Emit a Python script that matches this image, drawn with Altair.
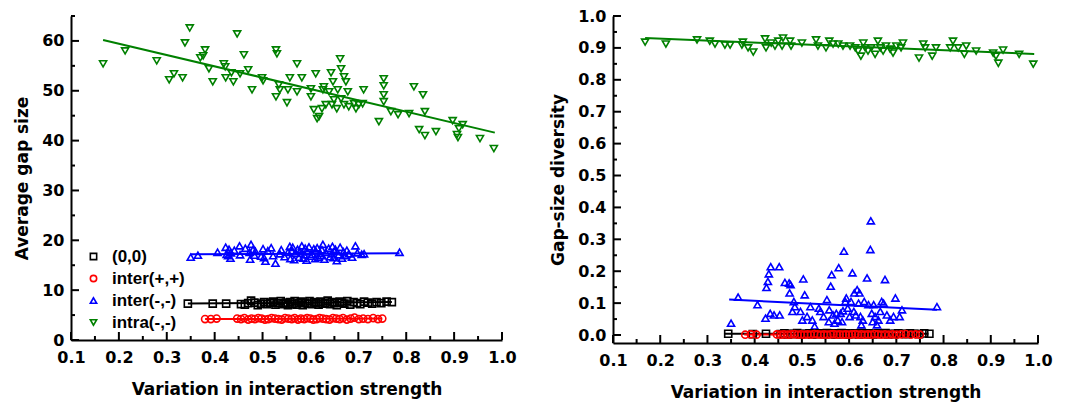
import altair as alt
import pandas as pd

SERIES = ["(0,0)", "inter(+,+)", "inter(-,-)", "intra(-,-)"]
COLORS = ["#000000", "#FF0000", "#0000FF", "#008000"]
SHAPES = ["square", "circle", "triangle-up", "triangle-down"]

X_MAJOR = [0.1, 0.2, 0.3, 0.4, 0.5, 0.6, 0.7, 0.8, 0.9, 1.0]
X_MINOR = [0.15, 0.25, 0.35, 0.45, 0.55, 0.65, 0.75, 0.85, 0.95]
YA_MAJOR = [0, 10, 20, 30, 40, 50, 60]
YA_MINOR = [5, 15, 25, 35, 45, 55, 65]
YB_MAJOR = [0.0, 0.1, 0.2, 0.3, 0.4, 0.5, 0.6, 0.7, 0.8, 0.9, 1.0]
YB_MINOR = [0.05, 0.15, 0.25, 0.35, 0.45, 0.55, 0.65, 0.75, 0.85, 0.95]

# ---- intra(-,-) (green) ----
green_x_a = [
    0.167, 0.213, 0.279, 0.305, 0.315, 0.333, 0.338, 0.348, 0.370, 0.376,
    0.380, 0.388, 0.396, 0.419, 0.422, 0.423, 0.435, 0.439, 0.447, 0.453,
    0.461, 0.470, 0.478, 0.499, 0.501, 0.528, 0.530, 0.528, 0.534, 0.536,
    0.551, 0.553, 0.557, 0.572, 0.572, 0.582, 0.601, 0.601, 0.611, 0.607,
    0.614, 0.618, 0.624, 0.626, 0.628, 0.643, 0.647, 0.639, 0.632, 0.645,
    0.649, 0.655, 0.662, 0.664, 0.670, 0.674, 0.678, 0.657, 0.664, 0.670,
    0.680, 0.691, 0.695, 0.701, 0.709, 0.711, 0.743, 0.753, 0.753, 0.753,
    0.753, 0.768, 0.783, 0.806, 0.816, 0.827, 0.835, 0.839, 0.839, 0.862,
    0.897, 0.906, 0.908, 0.910, 0.918, 0.954, 0.983]
green_y_a = [
    55.4, 58.0, 56.0, 52.2, 53.4, 52.6, 59.6, 62.6, 56.6, 57.0,
    58.2, 54.4, 51.8, 55.4, 54.8, 52.6, 53.6, 51.8, 61.4, 53.4,
    57.2, 54.2, 50.2, 52.6, 52.0, 58.2, 57.4, 48.8, 51.2, 50.2,
    47.6, 50.2, 52.6, 55.4, 49.8, 52.6, 48.8, 50.4, 53.4, 46.2,
    44.4, 44.8, 46.4, 50.2, 50.8, 53.6, 51.8, 49.8, 47.2, 47.2,
    48.2, 46.4, 56.4, 54.4, 52.8, 51.8, 49.8, 50.2, 48.4, 47.2,
    46.8, 47.4, 46.4, 47.2, 47.4, 50.2, 43.8, 51.0, 52.4, 49.2,
    47.8, 45.8, 45.2, 45.4, 50.8, 42.2, 49.2, 45.8, 41.0, 41.8,
    44.0, 41.2, 40.6, 42.4, 43.2, 40.4, 38.4]
green_x_b = [
    0.168, 0.212, 0.278, 0.305, 0.316, 0.337, 0.348, 0.375, 0.373, 0.386,
    0.397, 0.422, 0.424, 0.435, 0.443, 0.450, 0.460, 0.458, 0.475, 0.477,
    0.500, 0.530, 0.534, 0.551, 0.558, 0.566, 0.577, 0.587, 0.602, 0.613,
    0.619, 0.625, 0.630, 0.634, 0.640, 0.647, 0.655, 0.661, 0.666, 0.672,
    0.678, 0.687, 0.693, 0.700, 0.710, 0.714, 0.748, 0.757, 0.761, 0.776,
    0.784, 0.814, 0.820, 0.831, 0.844, 0.848, 0.869, 0.905, 0.911, 0.916,
    0.926, 0.960, 0.990]
green_y_b = [
    0.918, 0.912, 0.925, 0.921, 0.912, 0.909, 0.909, 0.918, 0.909, 0.900,
    0.887, 0.928, 0.900, 0.915, 0.906, 0.921, 0.931, 0.906, 0.921, 0.906,
    0.915, 0.925, 0.906, 0.900, 0.921, 0.912, 0.912, 0.906, 0.906, 0.900,
    0.890, 0.874, 0.915, 0.900, 0.890, 0.900, 0.880, 0.921, 0.900, 0.890,
    0.906, 0.896, 0.884, 0.906, 0.900, 0.915, 0.868, 0.912, 0.900, 0.874,
    0.900, 0.900, 0.921, 0.900, 0.880, 0.906, 0.890, 0.884, 0.874, 0.852,
    0.893, 0.880, 0.849]

# ---- inter(-,-) (blue) ----
blue_x = [
    0.350, 0.365, 0.406, 0.423, 0.425, 0.428, 0.430, 0.434, 0.433, 0.441,
    0.452, 0.453, 0.464, 0.473, 0.476, 0.474, 0.480, 0.483, 0.485, 0.497,
    0.501, 0.503, 0.506, 0.511, 0.518, 0.522, 0.527, 0.536, 0.539, 0.546,
    0.553, 0.557, 0.558, 0.561, 0.563, 0.566, 0.569, 0.573, 0.576, 0.578,
    0.582, 0.585, 0.587, 0.589, 0.592, 0.594, 0.597, 0.601, 0.604, 0.607,
    0.610, 0.611, 0.614, 0.617, 0.620, 0.622, 0.624, 0.626, 0.629, 0.632,
    0.638, 0.641, 0.645, 0.646, 0.648, 0.650, 0.652, 0.655, 0.659, 0.662,
    0.666, 0.669, 0.673, 0.676, 0.680, 0.687, 0.694, 0.698, 0.707, 0.712,
    0.786]
blue_y_a = [
    16.6, 17.0, 17.6, 18.6, 17.2, 16.9, 18.2, 17.5, 16.4, 18.0,
    18.9, 17.1, 18.4, 17.6, 19.2, 16.2, 18.1, 17.0, 17.8, 16.8,
    18.3, 16.5, 15.8, 17.9, 18.5, 16.9, 15.4, 17.3, 18.1, 16.7,
    17.6, 18.8, 16.3, 17.9, 18.6, 16.1, 17.4, 18.2, 16.6, 17.8,
    18.9, 16.4, 17.1, 18.4, 16.0, 17.7, 18.7, 16.8, 17.2, 18.3,
    16.3, 17.9, 18.5, 16.6, 17.4, 16.9, 18.1, 19.2, 16.2, 17.6,
    18.4, 16.7, 17.3, 18.8, 16.5, 17.8, 18.2, 15.9, 17.1, 18.6,
    16.4, 17.7, 16.9, 18.0, 17.3, 16.6, 18.9, 17.5, 17.2, 17.3,
    17.6]
blue_y_b = [
    0.037, 0.119, 0.095, 0.053, 0.149, 0.168, 0.192, 0.214, 0.068, 0.063,
    0.214, 0.063, 0.165, 0.163, 0.158, 0.132, 0.074, 0.105, 0.089, 0.074,
    0.047, 0.176, 0.126, 0.058, 0.089, 0.047, 0.028, 0.084, 0.074, 0.058,
    0.111, 0.042, 0.079, 0.153, 0.189, 0.063, 0.037, 0.068, 0.047, 0.211,
    0.068, 0.042, 0.076, 0.263, 0.105, 0.116, 0.084, 0.058, 0.105, 0.195,
    0.074, 0.132, 0.063, 0.142, 0.100, 0.132, 0.058, 0.032, 0.047, 0.105,
    0.179, 0.095, 0.268, 0.358, 0.068, 0.042, 0.095, 0.058, 0.032, 0.047,
    0.074, 0.105, 0.100, 0.174, 0.063, 0.047, 0.058, 0.116, 0.058, 0.079,
    0.089]

# ---- (0,0) (black) ----
black_x = [
    0.344, 0.396, 0.424, 0.455, 0.463, 0.470, 0.476, 0.483, 0.490, 0.497,
    0.503, 0.509, 0.516, 0.522, 0.527, 0.533, 0.538, 0.544, 0.549, 0.553,
    0.558, 0.562, 0.567, 0.571, 0.576, 0.580, 0.584, 0.589, 0.594, 0.598,
    0.603, 0.608, 0.612, 0.617, 0.621, 0.626, 0.631, 0.636, 0.641, 0.645,
    0.650, 0.655, 0.661, 0.666, 0.671, 0.677, 0.683, 0.690, 0.697, 0.704,
    0.712, 0.720, 0.729, 0.738, 0.748, 0.759, 0.770]
black_y_a = [
    7.3, 7.3, 7.3, 7.2, 7.1, 7.4, 7.9, 7.5, 7.0, 7.3,
    7.6, 7.2, 7.5, 7.7, 7.1, 7.4, 7.8, 7.2, 7.5, 7.0,
    7.6, 7.3, 7.8, 7.1, 7.4, 7.7, 7.0, 7.5, 7.3, 7.8,
    7.2, 7.6, 7.4, 7.1, 7.7, 7.3, 7.5, 7.9, 7.2, 7.6,
    7.4, 7.0, 7.7, 7.5, 7.3, 7.8, 7.1, 7.6, 7.4, 7.2,
    7.7, 7.5, 7.3, 7.6, 7.4, 7.7, 7.6]
black_y_b = [
    0.004, 0.003, 0.004, 0.003, 0.005, 0.002, 0.004, 0.003, 0.006, 0.002,
    0.004, 0.003, 0.005, 0.002, 0.004, 0.003, 0.005, 0.004, 0.002, 0.006,
    0.003, 0.004, 0.005, 0.002, 0.003, 0.004, 0.006, 0.003, 0.005, 0.002,
    0.004, 0.003, 0.005, 0.004, 0.002, 0.006, 0.003, 0.004, 0.005, 0.003,
    0.002, 0.004, 0.005, 0.003, 0.004, 0.006, 0.002, 0.004, 0.003, 0.005,
    0.004, 0.003, 0.005, 0.004, 0.003, 0.005, 0.004]

# ---- inter(+,+) (red) ----
red_x = [
    0.380, 0.392, 0.404, 0.447, 0.455, 0.462, 0.470, 0.477, 0.484, 0.491,
    0.498, 0.505, 0.512, 0.519, 0.526, 0.533, 0.540, 0.547, 0.554, 0.561,
    0.567, 0.574, 0.580, 0.587, 0.593, 0.600, 0.606, 0.613, 0.619, 0.626,
    0.633, 0.640, 0.647, 0.654, 0.661, 0.668, 0.676, 0.684, 0.692, 0.701,
    0.710, 0.720, 0.731, 0.741, 0.750]
red_y_a = [
    4.2, 4.2, 4.3, 4.3, 4.2, 4.4, 4.1, 4.3, 4.2, 4.4,
    4.3, 4.1, 4.2, 4.4, 4.3, 4.2, 4.1, 4.4, 4.3, 4.2,
    4.4, 4.1, 4.3, 4.2, 4.4, 4.3, 4.1, 4.2, 4.4, 4.3,
    4.2, 4.1, 4.4, 4.3, 4.2, 4.4, 4.1, 4.3, 4.5, 4.2,
    4.3, 4.2, 4.4, 4.2, 4.3]
red_y_b = [
    0.001, 0.002, 0.001, 0.002, 0.001, 0.002, 0.001, 0.002, 0.003, 0.001,
    0.002, 0.001, 0.002, 0.001, 0.003, 0.002, 0.001, 0.002, 0.001, 0.002,
    0.003, 0.001, 0.002, 0.001, 0.002, 0.001, 0.002, 0.003, 0.001, 0.002,
    0.001, 0.002, 0.001, 0.003, 0.002, 0.001, 0.002, 0.001, 0.002, 0.001,
    0.002, 0.003, 0.001, 0.002, 0.001]

# ---- linear fits (start, end) per series ----
fit_x_a = {"(0,0)": [0.344, 0.770], "inter(+,+)": [0.380, 0.750],
           "inter(-,-)": [0.350, 0.786], "intra(-,-)": [0.167, 0.985]}
fit_y_a = {"(0,0)": [7.3, 7.6], "inter(+,+)": [4.2, 4.3],
           "inter(-,-)": [17.2, 17.4], "intra(-,-)": [60.2, 41.6]}
fit_x_b = {"(0,0)": [0.335, 0.768], "inter(+,+)": [0.378, 0.750],
           "inter(-,-)": [0.346, 0.786], "intra(-,-)": [0.168, 0.992]}
fit_y_b = {"(0,0)": [0.004, 0.004], "inter(+,+)": [0.002, 0.001],
           "inter(-,-)": [0.111, 0.079], "intra(-,-)": [0.931, 0.881]}


def points_df(parts):
    rows = []
    for name, xs, ys in parts:
        for x, y in zip(xs, ys):
            rows.append({"x": x, "y": y, "series": name})
    return pd.DataFrame(rows)


def fit_df(fx, fy):
    rows = []
    for name in SERIES:
        for x, y in zip(fx[name], fy[name]):
            rows.append({"x": x, "y": y, "series": name})
    return pd.DataFrame(rows)


pts_a = points_df([("intra(-,-)", green_x_a, green_y_a),
                   ("inter(-,-)", blue_x, blue_y_a),
                   ("(0,0)", black_x, black_y_a),
                   ("inter(+,+)", red_x, red_y_a)])
pts_b = points_df([("intra(-,-)", green_x_b, green_y_b),
                   ("inter(-,-)", blue_x, blue_y_b),
                   ("(0,0)", black_x, black_y_b),
                   ("inter(+,+)", red_x, red_y_b)])

TICK_FONT = "DejaVu Sans"
LEG_FONT = "Liberation Sans"


def panel(pts, fits, ydom, ymajor, yminor, yfmt, ytitle, width, height, show_legend):
    xs = alt.Scale(domain=[0.1, 1.0], nice=False, zero=False)
    ys = alt.Scale(domain=ydom, nice=False, zero=False)
    cs = alt.Scale(domain=SERIES, range=COLORS)
    ss = alt.Scale(domain=SERIES, range=SHAPES)
    if show_legend:
        leg = alt.Legend(title=None, orient="none", legendX=14, legendY=232,
                         labelFont=LEG_FONT, labelFontSize=17, labelFontWeight="bold",
                         labelColor="black", symbolSize=40, symbolStrokeWidth=1.6,
                         labelOffset=10, rowPadding=4, padding=0)
    else:
        leg = None
    xaxis = alt.Axis(values=X_MAJOR, format=".1f", title="Variation in interaction strength",
                     labelFlush=False, labelPadding=9, titlePadding=16)
    yaxis = alt.Axis(values=ymajor, format=yfmt, title=ytitle,
                     labelPadding=7, titlePadding=10)

    X = alt.X("x:Q", scale=xs, axis=xaxis)
    Y = alt.Y("y:Q", scale=ys, axis=yaxis)

    fit = alt.Chart(fits).mark_line(strokeWidth=2).encode(
        x=X, y=Y,
        color=alt.Color("series:N", scale=cs, legend=leg),
        detail="series:N",
    )
    dots = alt.Chart(pts).mark_point(filled=False, size=50, strokeWidth=1.6, opacity=1).encode(
        x=X, y=Y,
        color=alt.Color("series:N", scale=cs, legend=leg),
        shape=alt.Shape("series:N", scale=ss, legend=leg),
    )

    def xt(vals, ln):
        return alt.Chart(pd.DataFrame({"x": vals})).mark_rule(color="black", strokeWidth=2).encode(
            x=X, y=alt.value(height), y2=alt.value(height - ln))

    def yt(vals, ln):
        return alt.Chart(pd.DataFrame({"y": vals})).mark_rule(color="black", strokeWidth=2).encode(
            y=Y, x=alt.value(0), x2=alt.value(ln))

    return alt.layer(
        xt(X_MAJOR, 8), xt(X_MINOR, 4), yt(ymajor, 8), yt(yminor, 4), fit, dots
    ).properties(width=width, height=height)


left = panel(pts_a, fit_df(fit_x_a, fit_y_a), [0, 65], YA_MAJOR, YA_MINOR, "d",
             "Average gap size", 431, 324, True)
right = panel(pts_b, fit_df(fit_x_b, fit_y_b), [-0.025, 1.0], YB_MAJOR, YB_MINOR, ".1f",
              "Gap-size diversity", 425, 327, False)

chart = alt.hconcat(left, right, spacing=32).resolve_scale(
    color="independent", shape="independent"
).properties(
    padding={"left": 5, "top": 0, "right": 5, "bottom": 5}
).configure_view(stroke=None).configure_axis(
    grid=False, ticks=False, domainColor="black", domainWidth=2,
    labelFont=TICK_FONT, labelFontSize=16, labelFontWeight="bold", labelColor="black",
    titleFont=TICK_FONT, titleFontSize=17, titleFontWeight="bold", titleColor="black",
)

chart.save("out.html", embed_options={"renderer": "svg", "actions": False})
